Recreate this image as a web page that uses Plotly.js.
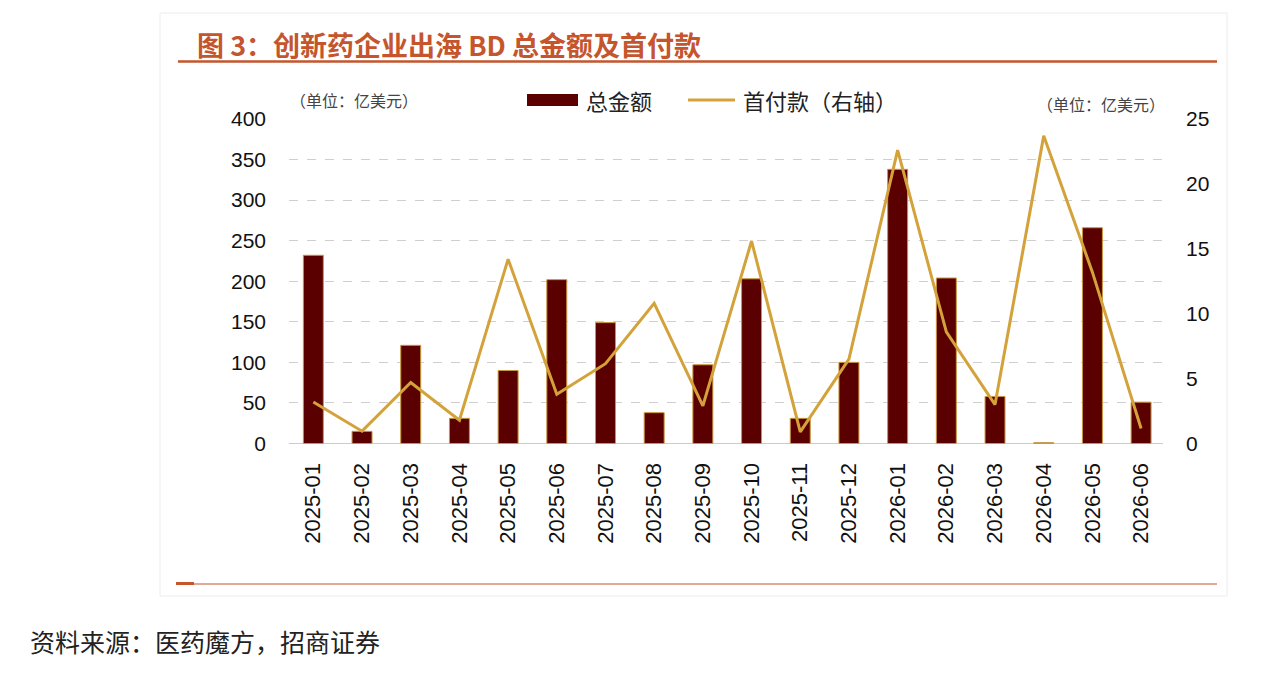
<!DOCTYPE html>
<html>
<head>
<meta charset="utf-8">
<script src="https://cdn.plot.ly/plotly-3.0.1.min.js"></script>
<style>
html,body{margin:0;padding:0;background:#fff;}
#chart{width:1269px;height:673px;}
</style>
</head>
<body>
<div id="chart"></div>
<script>
// ---- data ----
const months = ["2025-01","2025-02","2025-03","2025-04","2025-05","2025-06","2025-07","2025-08","2025-09","2025-10","2025-11","2025-12","2026-01","2026-02","2026-03","2026-04","2026-05","2026-06"];
const totalAmount = [232, 15, 121, 31, 90, 202, 149, 38, 97, 203, 31, 100, 338, 204, 58, 1, 266, 51];
const upfrontPayment = [3.2, 0.95, 4.7, 1.8, 14.2, 3.8, 6.15, 10.8, 2.9, 15.6, 0.9, 6.5, 22.6, 8.6, 3.0, 23.7, 13.2, 1.15];
const seriesNames = ["总金额", "首付款（右轴）"];
const leftTicks = [0, 50, 100, 150, 200, 250, 300, 350, 400];
const rightTicks = [0, 5, 10, 15, 20, 25];
const titleText = "图 3：创新药企业出海 BD 总金额及首付款";
const unitText = "（单位：亿美元）";
const sourceText = "资料来源：医药魔方，招商证券";

// ---- layout helpers (pixel -> paper) ----
const W = 1269, H = 673;
const px = x => x / W;
const py = y => 1 - y / H;

const barColor = "#5a0000";
const lineColor = "#d4a23a";
const accent = "#c4552d";
const cjk = "Noto Sans CJK SC";
const num = "Liberation Sans, Arial, sans-serif";

const traces = [
  {
    type: "bar", x: months, y: totalAmount, name: seriesNames[0],
    marker: {color: barColor, line: {color: "#c8963c", width: 1}},
    width: 0.41, yaxis: "y", hoverinfo: "x+y"
  },
  {
    type: "scatter", mode: "lines", x: months, y: upfrontPayment, name: seriesNames[1],
    line: {color: lineColor, width: 3}, yaxis: "y2", hoverinfo: "x+y"
  }
];

const layout = {
  width: W, height: H,
  margin: {l: 0, r: 0, t: 0, b: 0},
  paper_bgcolor: "#fff", plot_bgcolor: "rgba(0,0,0,0)",
  showlegend: false,
  xaxis: {
    type: "category", domain: [px(289), px(1163)], range: [-0.5, 17.45],
    tickangle: -90, tickfont: {family: num, size: 22, color: "#111"},
    showgrid: false, zeroline: false, showline: false, ticks: "",
    ticklabelstandoff: 14, automargin: false, fixedrange: true
  },
  yaxis: {
    domain: [py(443.5), py(119)], range: [0, 400], tickvals: leftTicks,
    tickfont: {family: num, size: 21, color: "#111"},
    showgrid: true, gridcolor: "#cfcfcf", griddash: "dash", gridwidth: 1,
    zeroline: true, zerolinecolor: "#cccccc", zerolinewidth: 1.5,
    showline: false, ticks: "", ticklabelstandoff: 22, automargin: false, fixedrange: true
  },
  yaxis2: {
    overlaying: "y", side: "right", range: [0, 25], tickvals: rightTicks,
    tickfont: {family: num, size: 21, color: "#111"},
    showgrid: false, zeroline: false, showline: false, ticks: "",
    ticklabelstandoff: 22, automargin: false, fixedrange: true
  },
  shapes: [
    {type: "rect", xref: "paper", yref: "paper", x0: px(160), x1: px(1227), y0: py(596), y1: py(13),
     line: {color: "#ececec", width: 1}, fillcolor: "rgba(0,0,0,0)", layer: "below"},
    {type: "line", xref: "paper", yref: "paper", x0: px(178), x1: px(1217), y0: py(61.5), y1: py(61.5),
     line: {color: accent, width: 2.5}},
    {type: "line", xref: "paper", yref: "paper", x0: px(178), x1: px(1217), y0: py(584), y1: py(584),
     line: {color: accent, width: 1.2}},
    {type: "line", xref: "paper", yref: "paper", x0: px(176), x1: px(194), y0: py(583.5), y1: py(583.5),
     line: {color: accent, width: 3}},
    // legend swatches
    {type: "rect", xref: "paper", yref: "paper", x0: px(527), x1: px(578), y0: py(106), y1: py(94),
     fillcolor: barColor, line: {color: barColor, width: 0}},
    {type: "line", xref: "paper", yref: "paper", x0: px(688), x1: px(735), y0: py(100), y1: py(100),
     line: {color: lineColor, width: 3}}
  ],
  annotations: [
    {xref: "paper", yref: "paper", x: px(195), y: py(45), xanchor: "left", yanchor: "middle",
     text: "<b>" + titleText + "</b>", showarrow: false,
     font: {family: cjk, size: 27, color: accent}},
    {xref: "paper", yref: "paper", x: px(584), y: py(100), xanchor: "left", yanchor: "middle",
     text: seriesNames[0], showarrow: false, font: {family: cjk, size: 22, color: "#222"}},
    {xref: "paper", yref: "paper", x: px(741), y: py(100), xanchor: "left", yanchor: "middle",
     text: seriesNames[1], showarrow: false, font: {family: cjk, size: 22, color: "#222"}},
    {xref: "paper", yref: "paper", x: px(288), y: py(100), xanchor: "left", yanchor: "middle",
     text: unitText, showarrow: false, font: {family: cjk, size: 16, color: "#444"}},
    {xref: "paper", yref: "paper", x: px(1167), y: py(104), xanchor: "right", yanchor: "middle",
     text: unitText, showarrow: false, font: {family: cjk, size: 16, color: "#444"}},
    {xref: "paper", yref: "paper", x: px(28), y: py(641), xanchor: "left", yanchor: "middle",
     text: sourceText, showarrow: false, font: {family: cjk, size: 25, color: "#222"}}
  ]
};

Plotly.newPlot("chart", traces, layout, {displayModeBar: false, staticPlot: true});
</script>
</body>
</html>
